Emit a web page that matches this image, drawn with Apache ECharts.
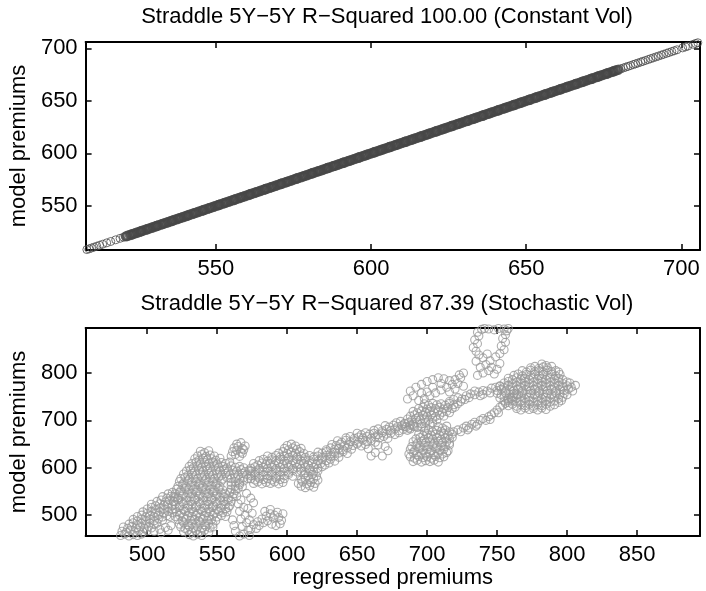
<!DOCTYPE html>
<html><head><meta charset="utf-8">
<script src="https://cdn.jsdelivr.net/npm/echarts@6/dist/echarts.min.js"></script>
<style>html,body{margin:0;padding:0;background:#fff}#chart{width:706px;height:591px}</style>
</head><body><div id="chart"></div>
<script>
const topTitle = 'Straddle 5Y\u22125Y R\u2212Squared 100.00 (Constant Vol)';
const bottomTitle = 'Straddle 5Y\u22125Y R\u2212Squared 87.39 (Stochastic Vol)';
const xAxisName = 'regressed premiums';
const yAxisName = 'model premiums';
const topTicks = [550, 600, 650, 700];
const bottomXTicks = [500, 550, 600, 650, 700, 750, 800, 850];
const bottomYTicks = [500, 600, 700, 800];

const constVolRegressed = [
508.4,509.1,509.9,510.7,511.6,512.5,513.5,514.8,516.1,517.7,519.1,520.2,520.9,
521.0,521.5,522.3,522.8,523.1,523.6,524.2,524.7,525.4,525.9,526.0,526.5,527.3,527.8,528.1,528.6,529.2,529.7,
530.4,530.9,531.0,531.5,532.3,532.8,533.1,533.6,534.2,534.7,535.4,535.9,536.0,536.5,537.3,537.8,538.1,538.6,539.2,539.7,
540.4,540.9,541.0,541.5,542.3,542.8,543.1,543.6,544.2,544.7,545.4,545.9,546.0,546.5,547.3,547.8,548.1,548.6,549.2,549.7,
550.4,550.9,551.0,551.5,552.3,552.8,553.1,553.6,554.2,554.7,555.4,555.9,556.0,556.5,557.3,557.8,558.1,558.6,559.2,559.7,
560.4,560.9,561.0,561.5,562.3,562.8,563.1,563.6,564.2,564.7,565.4,565.9,566.0,566.5,567.3,567.8,568.1,568.6,569.2,569.7,
570.4,570.9,571.0,571.5,572.3,572.8,573.1,573.6,574.2,574.7,575.4,575.9,576.0,576.5,577.3,577.8,578.1,578.6,579.2,579.7,
580.4,580.9,581.0,581.5,582.3,582.8,583.1,583.6,584.2,584.7,585.4,585.9,586.0,586.5,587.3,587.8,588.1,588.6,589.2,589.7,
590.4,590.9,591.0,591.5,592.3,592.8,593.1,593.6,594.2,594.7,595.4,595.9,596.0,596.5,597.3,597.8,598.1,598.6,599.2,599.7,
600.4,600.9,601.0,601.5,602.3,602.8,603.1,603.6,604.2,604.7,605.4,605.9,606.0,606.5,607.3,607.8,608.1,608.6,609.2,609.7,
610.4,610.9,611.0,611.5,612.3,612.8,613.1,613.6,614.2,614.7,615.4,615.9,616.0,616.5,617.3,617.8,618.1,618.6,619.2,619.7,
620.4,620.9,621.0,621.5,622.3,622.8,623.1,623.6,624.2,624.7,625.4,625.9,626.0,626.5,627.3,627.8,628.1,628.6,629.2,629.7,
630.4,630.9,631.0,631.5,632.3,632.8,633.1,633.6,634.2,634.7,635.4,635.9,636.0,636.5,637.3,637.8,638.1,638.6,639.2,639.7,
640.4,640.9,641.0,641.5,642.3,642.8,643.1,643.6,644.2,644.7,645.4,645.9,646.0,646.5,647.3,647.8,648.1,648.6,649.2,649.7,
650.4,650.9,651.0,651.5,652.3,652.8,653.1,653.6,654.2,654.7,655.4,655.9,656.0,656.5,657.3,657.8,658.1,658.6,659.2,659.7,
660.4,660.9,661.0,661.5,662.3,662.8,663.1,663.6,664.2,664.7,665.4,665.9,666.0,666.5,667.3,667.8,668.1,668.6,669.2,669.7,
670.4,670.9,671.0,671.5,672.3,672.8,673.1,673.6,674.2,674.7,675.4,675.9,676.0,676.5,677.3,677.8,678.1,678.6,679.2,679.7,
680.5,681.3,682.1,682.8,683.6,684.5,685.2,686.0,686.9,687.6,688.4,689.3,690.1,690.9,691.8,692.6,693.5,694.3,695.2,696.0,
696.9,697.7,698.6,700.4,701.3,702.1,703.8,704.6,705.3
];
const constVolModel = [
508.4,509.1,509.9,510.7,511.6,512.5,513.5,514.8,516.1,517.7,519.1,520.2,520.9,
521.0,521.5,522.3,522.8,523.1,523.6,524.2,524.7,525.4,525.9,526.0,526.5,527.3,527.8,528.1,528.6,529.2,529.7,
530.4,530.9,531.0,531.5,532.3,532.8,533.1,533.6,534.2,534.7,535.4,535.9,536.0,536.5,537.3,537.8,538.1,538.6,539.2,539.7,
540.4,540.9,541.0,541.5,542.3,542.8,543.1,543.6,544.2,544.7,545.4,545.9,546.0,546.5,547.3,547.8,548.1,548.6,549.2,549.7,
550.4,550.9,551.0,551.5,552.3,552.8,553.1,553.6,554.2,554.7,555.4,555.9,556.0,556.5,557.3,557.8,558.1,558.6,559.2,559.7,
560.4,560.9,561.0,561.5,562.3,562.8,563.1,563.6,564.2,564.7,565.4,565.9,566.0,566.5,567.3,567.8,568.1,568.6,569.2,569.7,
570.4,570.9,571.0,571.5,572.3,572.8,573.1,573.6,574.2,574.7,575.4,575.9,576.0,576.5,577.3,577.8,578.1,578.6,579.2,579.7,
580.4,580.9,581.0,581.5,582.3,582.8,583.1,583.6,584.2,584.7,585.4,585.9,586.0,586.5,587.3,587.8,588.1,588.6,589.2,589.7,
590.4,590.9,591.0,591.5,592.3,592.8,593.1,593.6,594.2,594.7,595.4,595.9,596.0,596.5,597.3,597.8,598.1,598.6,599.2,599.7,
600.4,600.9,601.0,601.5,602.3,602.8,603.1,603.6,604.2,604.7,605.4,605.9,606.0,606.5,607.3,607.8,608.1,608.6,609.2,609.7,
610.4,610.9,611.0,611.5,612.3,612.8,613.1,613.6,614.2,614.7,615.4,615.9,616.0,616.5,617.3,617.8,618.1,618.6,619.2,619.7,
620.4,620.9,621.0,621.5,622.3,622.8,623.1,623.6,624.2,624.7,625.4,625.9,626.0,626.5,627.3,627.8,628.1,628.6,629.2,629.7,
630.4,630.9,631.0,631.5,632.3,632.8,633.1,633.6,634.2,634.7,635.4,635.9,636.0,636.5,637.3,637.8,638.1,638.6,639.2,639.7,
640.4,640.9,641.0,641.5,642.3,642.8,643.1,643.6,644.2,644.7,645.4,645.9,646.0,646.5,647.3,647.8,648.1,648.6,649.2,649.7,
650.4,650.9,651.0,651.5,652.3,652.8,653.1,653.6,654.2,654.7,655.4,655.9,656.0,656.5,657.3,657.8,658.1,658.6,659.2,659.7,
660.4,660.9,661.0,661.5,662.3,662.8,663.1,663.6,664.2,664.7,665.4,665.9,666.0,666.5,667.3,667.8,668.1,668.6,669.2,669.7,
670.4,670.9,671.0,671.5,672.3,672.8,673.1,673.6,674.2,674.7,675.4,675.9,676.0,676.5,677.3,677.8,678.1,678.6,679.2,679.7,
680.5,681.3,682.1,682.8,683.6,684.5,685.2,686.0,686.9,687.6,688.4,689.3,690.1,690.9,691.8,692.6,693.5,694.3,695.2,696.0,
696.9,697.7,698.6,700.4,701.3,702.1,703.8,704.6,705.3
];

// Stochastic vol: [regressed premium, model premium] pairs, grouped by region of the path
const stochStart = [
[481,457],[484,460],[487,456],[490,459],[493,457],[496,460],
[482,466],[485,464],[488,468],[491,465],[494,467],[497,464],[500,467],
[483,475],[486,472],[489,476],[492,473],[495,475],[498,472],[501,476],[503,473],
[487,481],[490,484],[493,480],[496,483],[499,481],[502,484],[505,480],[507,483],
[490,491],[493,488],[496,492],[499,489],[502,491],[505,488],[508,492],[511,489],
[493,497],[496,500],[499,496],[502,499],[505,497],[508,500],[511,496],[514,499],[516,497],
[497,507],[500,504],[503,508],[506,505],[509,507],[512,504],[515,508],[518,505],
[500,513],[503,516],[506,512],[509,515],[512,513],[515,516],[518,512],
[503,523],[506,520],[509,524],[512,521],[515,523],[518,520],
[507,529],[510,532],[513,528],[516,531],[519,529],
[511,539],[514,536],[517,540],[520,537],[515,545],[518,548],
[505,466],[509,470],[513,474],[517,478],[510,463],[515,468]
];
const stochLowerBlob = [
[530,459],[533,456],[536,460],[539,457],
[526,465],[529,468],[532,464],[535,467],[538,465],[541,468],[544,464],
[524,475],[527,472],[530,476],[533,473],[536,475],[539,472],[542,476],[545,473],[547,475],
[523,481],[526,484],[529,480],[532,483],[535,481],[538,484],[541,480],[544,483],[547,481],
[522,491],[525,488],[528,492],[531,489],[534,491],[537,488],[540,492],[543,489],[546,491],[549,488],
[520,497],[523,500],[526,496],[529,499],[532,497],[535,500],[538,496],[541,499],[544,497],[547,500],[550,496],[553,499],[556,497],
[521,507],[524,504],[527,508],[530,505],[533,507],[536,504],[539,508],[542,505],[545,507],[548,504],[551,508],[554,505],[557,507],
[520,513],[523,516],[526,512],[529,515],[532,513],[535,516],[538,512],[541,515],[544,513],[547,516],[550,512],[553,515],[556,513],[558,516],
[520,523],[523,520],[526,524],[529,521],[532,523],[535,520],[538,524],[541,521],[544,523],[547,520],[550,524],[553,521],[556,523],[559,520],
[519,529],[522,532],[525,528],[528,531],[531,529],[534,532],[537,528],[540,531],[543,529],[546,532],[549,528],[552,531],[555,529],[558,532],[560,529],
[519,539],[522,536],[525,540],[528,537],[531,539],[534,536],[537,540],[540,537],[543,539],[546,536],[549,540],[552,537],[555,539],[558,536],[561,539],
[520,545],[523,548],[526,544],[529,547],[532,545],[535,548],[538,544],[541,547],[544,545],[547,548],[550,544],[553,547],[556,545],[559,548],[562,545],
[521,555],[524,552],[527,556],[530,553],[533,555],[536,552],[539,556],[542,553],[545,555],[548,552],[551,556],[554,553],[560,555],[563,552],[565,556],
[522,561],[525,564],[528,560],[531,563],[534,561],[537,564],[540,560],[543,563],[546,561],[549,564],[552,560],[560,563],[563,561],[566,564],[568,560],
[523,571],[526,568],[529,572],[532,569],[535,571],[538,568],[541,572],[544,569],[547,571],[550,568],[553,572],[560,569],[563,571],[566,568],[569,572],
[524,577],[527,580],[530,576],[533,579],[536,577],[539,580],[542,576],[545,579],[548,577],[551,580],[554,576],[557,579],[560,577],[563,580],[566,576],[569,579],[572,577],
[526,587],[529,584],[532,588],[535,585],[538,587],[541,584],[544,588],[547,585],[550,587],[553,584],[556,588],[559,585],[562,587],[565,584],[568,588],[571,585],[574,587],
[528,593],[531,596],[534,592],[537,595],[540,593],[543,596],[546,592],[549,595],[552,593],[555,596],[558,592],[561,595],[564,593],[567,596],[570,592],[573,595],
[530,603],[533,600],[536,604],[539,601],[542,603],[545,600],[548,604],[551,601],[554,603],[557,600],[560,604],[563,601],[566,603],[569,600],
[532,609],[535,612],[538,608],[541,611],[544,609],[547,612],[550,608],[553,611],[556,609],[559,612],
[534,619],[537,616],[540,620],[543,617],[546,619],[549,616],[552,620],
[536,625],[539,628],[542,624],[545,627],[548,625],[538,635],[541,632],[544,636],
[560,625],[563,628],[566,624],[568,630],[561,634],[564,637],[567,633],[569,638],[562,642],[565,645],[568,641],[570,646],[564,650],[567,653],
[564,540],[567,532],[565,524],[569,516],[566,508],[570,500],[567,492],[571,484],[568,476],[572,468],[569,460],[566,456],[573,457],[574,470],[573,490],[575,504],[572,514],[576,526],[574,536],[571,546],[562,478],[563,466],[561,490],
[576,480],[579,486],[582,492],[585,498],[588,503],[591,500],[594,495],[596,489],[595,482],[592,478],[589,481],[586,488],[583,484],[580,478],[590,494],[593,506],[597,503],[578,472],[584,508],[588,512]
];
const stochMiddle = [
[610,561],[613,558],[616,562],[619,559],
[576,567],[579,570],[582,566],[585,569],[588,567],[591,570],[594,566],[597,569],[608,567],[611,570],[614,566],[617,569],[620,567],
[574,577],[577,574],[580,578],[583,575],[586,577],[589,574],[592,578],[595,575],[598,577],[610,574],[613,578],[616,575],[619,577],[622,574],
[574,583],[577,586],[580,582],[583,585],[586,583],[589,586],[592,582],[595,585],[598,583],[601,586],[604,582],[612,585],[615,583],[618,586],[621,582],
[574,593],[577,590],[580,594],[583,591],[586,593],[589,590],[592,594],[595,591],[598,593],[601,590],[604,594],[607,591],[610,593],[613,590],[616,594],[619,591],[622,593],
[574,599],[577,602],[580,598],[583,601],[586,599],[589,602],[592,598],[595,601],[598,599],[601,602],[604,598],[607,601],[610,599],[613,602],[616,598],[619,601],[622,599],[625,602],
[576,609],[579,606],[582,610],[585,607],[588,609],[591,606],[594,610],[597,607],[600,609],[603,606],[606,610],[609,607],[612,609],[615,606],[618,610],[621,607],[624,609],[627,606],[630,610],
[580,615],[583,618],[586,614],[589,617],[592,615],[595,618],[598,614],[601,617],[604,615],[607,618],[610,614],[613,617],[616,615],[619,618],[622,614],[625,617],[628,615],[631,618],[634,614],
[586,625],[589,622],[592,626],[595,623],[598,625],[601,622],[604,626],[607,623],[610,625],[613,622],[616,626],[619,623],[622,625],[625,622],[628,626],[631,623],[634,625],[637,622],
[594,631],[597,634],[600,630],[603,633],[606,631],[609,634],[612,630],[622,633],[625,631],[628,634],[631,630],[634,633],[637,631],[640,634],[643,630],
[598,641],[601,638],[604,642],[607,639],[610,641],[628,638],[631,642],[634,639],[637,641],[640,638],[643,642],[646,639],
[600,647],[603,650],[606,646],[632,649],[635,647],[638,650],[641,646],[644,649],[647,647],[650,650],[653,646],[656,649],
[636,657],[639,654],[642,658],[645,655],[648,657],[651,654],[654,658],[657,655],[660,657],[663,654],
[642,663],[645,666],[648,662],[651,665],[654,663],[657,666],[660,662],[663,665],[666,663],[669,666],[672,662],
[650,673],[653,670],[656,674],[659,671],[662,673],[665,670],[668,674],[671,671],[674,673],[677,670],[680,674],
[662,679],[665,682],[668,678],[671,681],[674,679],[677,682],[680,678],[683,681],[686,679],[688,682],
[670,689],[673,686],[676,690],[679,687],[682,689],[685,686],[688,690],[691,687],
[678,695],[681,698],[684,694],
[658,640],[663,632],[668,625],[672,636],[665,648],[660,625],[670,645]
];
const stochUpperMiddle = [
[690,613],[693,616],[696,612],[699,615],[702,613],[705,616],[708,612],
[688,623],[691,620],[694,624],[697,621],[700,623],[703,620],[706,624],[709,621],[712,623],
[687,629],[690,632],[693,628],[696,631],[699,629],[702,632],[705,628],[708,631],[711,629],[714,632],
[688,639],[691,636],[694,640],[697,637],[700,639],[703,636],[706,640],[709,637],[712,639],[715,636],
[689,645],[692,648],[695,644],[698,647],[701,645],[704,648],[707,644],[710,647],[713,645],[716,648],
[690,655],[693,652],[696,656],[699,653],[702,655],[705,652],[708,656],[711,653],[714,655],[716,652],
[692,661],[695,664],[698,660],[701,663],[704,661],[707,664],[710,660],[713,663],[716,661],[718,664],
[694,671],[697,668],[700,672],[703,669],[706,671],[709,668],[712,672],[715,669],[718,671],
[698,677],[701,680],[704,676],[707,679],[710,677],[713,680],[716,676],
[684,687],[687,684],[690,688],[693,685],[696,687],[699,684],[708,687],[711,684],[714,688],
[684,693],[687,696],[690,692],[693,695],[696,693],[699,696],[702,692],[704,695],
[686,703],[689,700],[692,704],[695,701],[698,703],[701,700],[704,704],[707,701],
[688,709],[691,712],[694,708],[697,711],[700,709],[703,712],[706,708],[709,711],[712,709],
[690,719],[693,716],[696,720],[699,717],[702,719],[705,716],[708,720],[711,717],[714,719],[716,716],
[694,725],[697,728],[700,724],[703,727],[706,725],[709,728],[712,724],[715,727],[718,725],[720,728],
[698,735],[701,732],[704,736],[707,733],[710,735],[713,732],[716,736],[719,733],[722,735],
[686,745],[690,752],[688,762],[692,770],[696,776],[700,782],[704,786],[708,790],[712,788],[716,784],[720,786],[724,790],[718,776],[714,770],[710,764],[706,758],[702,752],[698,746],[694,742],[704,770],[710,778],[722,778],[726,772],[700,760],[696,758],[716,760],[720,766],[723,796],[726,800],
[719,676],[722,680],[724,676],[726,684],[728,688],[730,684],[732,692],[734,696],[736,692],[738,700],[740,704],[742,700],[744,708],[746,712],[748,716],[750,722],[752,728],[754,732],[756,736],[758,742],[760,746],[762,750],[764,754],[745,702],[735,688],[729,680],[751,716],
[716,740],[719,744],[722,748],[725,745],[728,752],[731,756],[734,754],[737,760],[740,763],[743,762],[746,768],[749,770],[752,772],[740,755],[730,748],[724,740],[727,744],[734,762],[738,752],[745,758]
];
const stochUpperRight = [
[764,725],[767,722],[770,726],[773,723],[776,725],[779,722],[782,726],[785,723],
[758,731],[761,734],[764,730],[767,733],[770,731],[773,734],[776,730],[779,733],[782,731],[785,734],[788,730],[791,733],
[755,741],[758,738],[761,742],[764,739],[767,741],[770,738],[773,742],[776,739],[779,741],[782,738],[785,742],[788,739],[791,741],[794,738],[796,742],
[752,747],[755,750],[758,746],[761,749],[764,747],[767,750],[770,746],[773,749],[776,747],[779,750],[782,746],[785,749],[788,747],[791,750],[794,746],[797,749],
[750,757],[753,754],[756,758],[759,755],[762,757],[765,754],[768,758],[771,755],[774,757],[777,754],[780,758],[783,755],[786,757],[789,754],[792,758],[795,755],[798,757],[800,754],
[750,763],[753,766],[756,762],[759,765],[762,763],[765,766],[768,762],[771,765],[774,763],[777,766],[780,762],[783,765],[786,763],[789,766],[792,762],[795,765],[798,763],[801,766],[804,762],
[752,773],[755,770],[758,774],[761,771],[764,773],[767,770],[770,774],[773,771],[776,773],[779,770],[782,774],[785,771],[788,773],[791,770],[794,774],[797,771],[800,773],[803,770],[806,774],
[755,779],[758,782],[761,778],[764,781],[767,779],[770,782],[773,778],[776,781],[779,779],[782,782],[785,778],[788,781],[791,779],[794,782],[797,778],[800,781],[802,779],
[758,789],[761,786],[764,790],[767,787],[770,789],[773,786],[776,790],[779,787],[782,789],[785,786],[788,790],[791,787],[794,789],[797,786],
[762,795],[765,798],[768,794],[771,797],[774,795],[777,798],[780,794],[783,797],[786,795],[789,798],[792,794],[795,797],
[768,805],[771,802],[774,806],[777,803],[780,805],[783,802],[786,806],[789,803],[792,805],[794,802],
[774,811],[777,814],[780,810],[783,813],[786,811],[789,814],[782,819],[785,816],
[736,795],[740,800],[744,805],[748,798],[738,812],[742,818],[746,812],[750,808],[735,825],[740,832],[745,826],[752,820],[737,838],[743,840],[749,834],
[735,846],[733,854],[736,862],[734,870],[737,878],[736,886],[739,892],[741,894],[744,893],[748,891],[751,894],[755,893],[758,894],[757,889],[756,881],[754,873],[756,865],[753,857],[755,849],[752,841]
];

const FONT = 'Liberation Sans';
const stochPoints = stochStart.concat(stochLowerBlob, stochMiddle, stochUpperMiddle, stochUpperRight);
const constPoints = constVolRegressed.map((v, i) => [v, constVolModel[i]]);
const constDense = constPoints.filter(p => p[0] >= 521 && p[0] < 680);
const constSparse = constPoints.filter(p => p[0] < 521 || p[0] >= 680);

function axis(grid, min, max, ticks, position, showLabels, name, nameGap) {
  const a = {
    type: 'value', gridIndex: grid, min: min, max: max, position: position,
    axisLine: { show: true, onZero: false, lineStyle: { color: '#000', width: 2 } },
    axisTick: { show: true, inside: true, length: 6, customValues: ticks, lineStyle: { color: '#000', width: 1.5 } },
    axisLabel: { show: showLabels, customValues: ticks, fontSize: 22, fontFamily: FONT, color: '#000', margin: 8 },
    splitLine: { show: false }
  };
  if (name) {
    a.name = name; a.nameLocation = 'middle'; a.nameGap = nameGap;
    a.nameTextStyle = { fontSize: 22, fontFamily: FONT, color: '#000' };
  }
  return a;
}

const chart = echarts.init(document.getElementById('chart'), null, { renderer: 'canvas' });
chart.setOption({
  animation: false,
  backgroundColor: '#fff',
  title: [
    { text: topTitle, left: 387, top: 6, textAlign: 'center', padding: 0,
      textStyle: { fontSize: 22, fontWeight: 'normal', fontFamily: FONT, color: '#000' } },
    { text: bottomTitle, left: 387, top: 293, textAlign: 'center', padding: 0,
      textStyle: { fontSize: 22, fontWeight: 'normal', fontFamily: FONT, color: '#000' } }
  ],
  grid: [
    { left: 74, top: 42, width: 626, height: 208 },
    { left: 74, top: 328, width: 626, height: 208 }
  ],
  xAxis: [
    axis(0, 508, 706, topTicks, 'bottom', true),
    axis(0, 508, 706, topTicks, 'top', false),
    axis(1, 456, 895, bottomXTicks, 'bottom', true, xAxisName, 30),
    axis(1, 456, 895, bottomXTicks, 'top', false)
  ],
  yAxis: [
    axis(0, 508, 706, topTicks, 'left', true, yAxisName, 46),
    axis(0, 508, 706, topTicks, 'right', false),
    axis(1, 456, 895, bottomYTicks, 'left', true, yAxisName, 46),
    axis(1, 456, 895, bottomYTicks, 'right', false)
  ],
  series: [
    { type: 'scatter', xAxisIndex: 0, yAxisIndex: 0, data: constDense, symbol: 'circle', symbolSize: 8,
      itemStyle: { color: 'rgba(0,0,0,0)', borderColor: '#474747', borderWidth: 2.4 }, silent: true },
    { type: 'scatter', xAxisIndex: 0, yAxisIndex: 0, data: constSparse, symbol: 'circle', symbolSize: 8,
      itemStyle: { color: 'rgba(0,0,0,0)', borderColor: '#4d4d4d', borderWidth: 1 }, silent: true },
    { type: 'scatter', xAxisIndex: 2, yAxisIndex: 2, data: stochPoints, symbol: 'circle', symbolSize: 8,
      itemStyle: { color: 'rgba(0,0,0,0)', borderColor: '#999999', borderWidth: 1.1 }, silent: true }
  ]
});
</script>
</body></html>
